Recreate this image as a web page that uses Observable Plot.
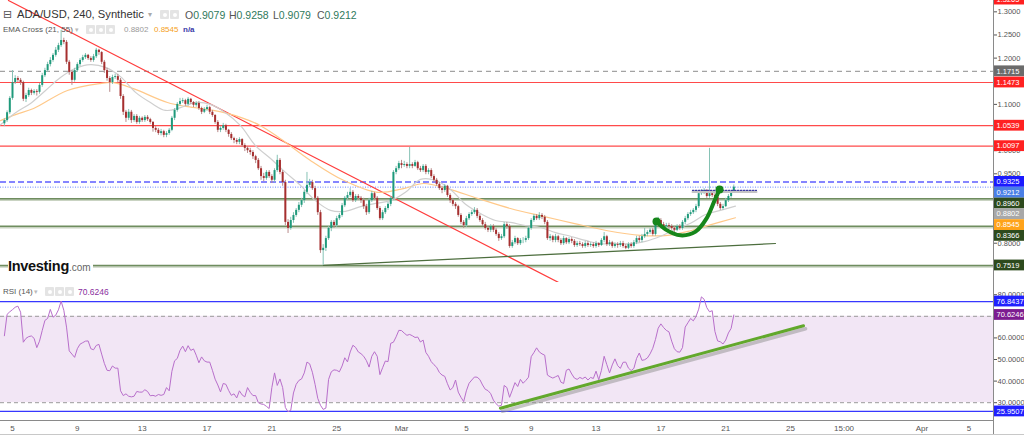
<!DOCTYPE html>
<html><head><meta charset="utf-8">
<script src="https://cdn.jsdelivr.net/npm/d3@7"></script>
<script src="https://cdn.jsdelivr.net/npm/@observablehq/plot@0.6"></script>
<style>
body{margin:0;background:#fff;font-family:"Liberation Sans",Arial,sans-serif;}
#wrap{position:relative;width:1024px;height:435px;overflow:hidden;background:#fff}
.abs{position:absolute;white-space:nowrap;line-height:1}
.ico{position:absolute;width:9px;height:9px;background:#e4e4e4;border-radius:1px}
.ico::after{content:"";position:absolute;left:2.5px;top:2.5px;width:4px;height:4px;border-radius:2px;background:#fff}
</style></head><body>
<div id="wrap">
  <div id="main" class="abs" style="left:0;top:0"></div>
  <div id="rsi" class="abs" style="left:0;top:283px"></div>
  <div class="abs" style="left:993px;top:0;width:1px;height:435px;background:#8a8a8a"></div>
  <div class="abs" style="left:0;top:434px;width:1024px;height:1px;background:#c8c8c8"></div>

  <div class="abs" style="left:3px;top:8.5px;font-family:'DejaVu Sans';font-size:11px;color:#555">⊟</div>
  <div class="abs" style="left:17px;top:9px;font-size:11.2px;color:#333">ADA/USD, 240, Synthetic</div>
  <div class="abs" style="left:148px;top:11px;font-size:8px;color:#aaa">▾</div>
  <span class="ico" style="left:160px;top:10px"></span><span class="ico" style="left:170px;top:10px"></span>
  <div class="abs" style="left:185px;top:9.5px;font-size:10.5px;color:#555">O<span style="color:#2f7a5c">0.9079</span></div>
  <div class="abs" style="left:229px;top:9.5px;font-size:10.5px;color:#555">H<span style="color:#2f7a5c">0.9258</span></div>
  <div class="abs" style="left:273px;top:9.5px;font-size:10.5px;color:#555">L<span style="color:#2f7a5c">0.9079</span></div>
  <div class="abs" style="left:317px;top:9.5px;font-size:10.5px;color:#555">C<span style="color:#2f7a5c">0.9212</span></div>

  <div class="abs" style="left:3px;top:25.5px;font-size:8px;color:#555">EMA Cross (21, 55)</div>
  <div class="abs" style="left:75px;top:25.5px;font-size:7px;color:#bbb">▾</div>
  <span class="ico" style="left:86px;top:25px"></span><span class="ico" style="left:96px;top:25px"></span><span class="ico" style="left:106px;top:25px"></span>
  <div class="abs" style="left:124px;top:25.5px;font-size:8px;color:#9a9a9a">0.8802</div>
  <div class="abs" style="left:154px;top:25.5px;font-size:8px;color:#f5a01a">0.8545</div>
  <div class="abs" style="left:183px;top:25.5px;font-size:8px;color:#3a3aa8;font-weight:bold">n/a</div>

  <div class="abs" style="left:3px;top:288px;font-size:8px;color:#555">RSI (14)</div>
  <div class="abs" style="left:34px;top:288px;font-size:7px;color:#bbb">▾</div>
  <span class="ico" style="left:45px;top:287px"></span><span class="ico" style="left:55px;top:287px"></span><span class="ico" style="left:65px;top:287px"></span>
  <div class="abs" style="left:78px;top:288px;font-size:8.5px;color:#8a2f9e">70.6246</div>

  <div class="abs" style="left:8px;top:258px;background:#fff;padding-right:2px"><span style="font-size:14.5px;font-weight:bold;color:#111;letter-spacing:-0.3px">Investing</span><span style="font-size:10px;color:#666">.com</span></div>
</div>
<script>
// ---------- data ----------
const startDay = 4.5;          // first 4h candle, in days counted from Feb 0 (Mar 1 = day 29)
const candleStep = 1 / 6;      // 4 hours
const firstOpen = 1.058;
const close = [
1.065,1.082,1.113,1.147,1.156,1.152,
1.147,1.111,1.119,1.130,1.124,1.128,
1.126,1.141,1.162,1.173,1.186,1.195,
1.206,1.217,1.227,1.238,1.234,1.191,
1.169,1.152,1.173,1.186,1.195,1.201,
1.206,1.199,1.195,1.203,1.217,1.212,
1.191,1.173,1.156,1.147,1.158,1.160,
1.152,1.117,1.083,1.070,1.083,1.065,
1.074,1.061,1.070,1.065,1.072,1.067,
1.061,1.048,1.044,1.037,1.041,1.033,
1.037,1.044,1.070,1.087,1.100,1.106,
1.108,1.100,1.111,1.104,1.098,1.102,
1.091,1.083,1.089,1.093,1.083,1.076,
1.061,1.044,1.048,1.054,1.044,1.035,
1.026,1.022,1.018,1.024,1.011,1.005,
1.000,0.996,0.987,0.979,0.961,0.944,
0.940,0.953,0.944,0.936,0.957,0.979,
0.953,0.931,0.845,0.832,0.849,0.860,
0.871,0.882,0.892,0.910,0.925,0.931,
0.918,0.897,0.866,0.784,0.789,0.810,
0.832,0.845,0.838,0.853,0.860,0.881,
0.897,0.903,0.910,0.892,0.901,0.897,
0.892,0.879,0.866,0.892,0.907,0.897,
0.875,0.853,0.866,0.875,0.884,0.897,
0.953,0.961,0.972,0.968,0.970,0.966,
0.970,0.966,0.974,0.961,0.957,0.966,
0.953,0.957,0.944,0.936,0.927,0.918,
0.914,0.923,0.903,0.892,0.884,0.879,
0.860,0.845,0.838,0.853,0.862,0.866,
0.871,0.858,0.849,0.840,0.832,0.828,
0.836,0.828,0.819,0.810,0.814,0.840,
0.836,0.793,0.801,0.810,0.799,0.806,
0.806,0.810,0.832,0.849,0.858,0.853,
0.860,0.856,0.845,0.810,0.814,0.806,
0.814,0.806,0.799,0.810,0.801,0.808,
0.804,0.795,0.799,0.797,0.793,0.799,
0.795,0.797,0.793,0.799,0.795,0.806,
0.814,0.797,0.801,0.793,0.797,0.795,
0.799,0.793,0.789,0.797,0.793,0.801,
0.810,0.806,0.814,0.819,0.823,0.828,
0.819,0.845,0.849,0.840,0.836,0.838,
0.836,0.832,0.828,0.836,0.832,0.845,
0.853,0.862,0.866,0.871,0.879,0.907,
0.910,0.914,0.901,0.907,0.903,0.899,
0.884,0.875,0.879,0.892,0.901,0.9079,
0.9212];
const high = [
1.069,1.086,1.117,1.173,1.162,1.160,
1.156,1.150,1.124,1.135,1.133,1.132,
1.132,1.145,1.167,1.178,1.191,1.201,
1.210,1.223,1.232,1.260,1.243,1.238,
1.195,1.173,1.178,1.190,1.199,1.206,
1.210,1.208,1.203,1.208,1.221,1.219,
1.214,1.195,1.178,1.160,1.163,1.165,
1.165,1.156,1.121,1.087,1.089,1.087,
1.078,1.078,1.074,1.073,1.076,1.076,
1.070,1.063,1.052,1.048,1.046,1.044,
1.041,1.048,1.074,1.091,1.104,1.113,
1.113,1.111,1.115,1.113,1.106,1.106,
1.106,1.094,1.093,1.098,1.096,1.087,
1.078,1.065,1.052,1.059,1.057,1.046,
1.039,1.029,1.026,1.028,1.026,1.015,
1.009,1.005,1.000,0.990,0.983,0.966,
0.951,0.957,0.957,0.948,0.961,0.990,
0.983,0.957,0.936,0.851,0.856,0.866,
0.875,0.888,0.897,0.914,0.953,0.938,
0.936,0.923,0.901,0.871,0.797,0.815,
0.836,0.849,0.849,0.858,0.864,0.886,
0.901,0.910,0.918,0.914,0.905,0.905,
0.901,0.897,0.884,0.897,0.912,0.910,
0.901,0.879,0.871,0.879,0.888,0.901,
0.957,0.966,0.977,0.979,0.977,0.974,
1.007,0.974,0.979,0.977,0.966,0.970,
0.970,0.961,0.961,0.948,0.940,0.931,
0.923,0.927,0.925,0.907,0.897,0.888,
0.882,0.864,0.849,0.858,0.866,0.871,
0.877,0.875,0.862,0.853,0.845,0.836,
0.840,0.840,0.832,0.823,0.819,0.845,
0.845,0.840,0.806,0.815,0.812,0.810,
0.812,0.815,0.836,0.853,0.862,0.862,
0.866,0.864,0.860,0.849,0.819,0.817,
0.819,0.817,0.810,0.815,0.812,0.812,
0.812,0.808,0.804,0.804,0.801,0.804,
0.804,0.801,0.801,0.804,0.801,0.810,
0.823,0.817,0.806,0.804,0.801,0.801,
0.804,0.804,0.797,0.801,0.801,0.806,
0.815,0.815,0.819,0.832,0.827,0.832,
0.832,0.849,0.856,0.853,0.845,0.843,
0.843,0.840,0.836,0.840,0.840,0.849,
0.858,0.866,0.871,0.875,0.884,0.912,
0.916,0.918,0.916,1.005,0.910,0.907,
0.903,0.888,0.884,0.897,0.905,0.912,
0.9258];
const low = [
1.052,1.061,1.078,1.109,1.143,1.147,
1.141,1.106,1.104,1.115,1.119,1.120,
1.118,1.122,1.137,1.158,1.169,1.181,
1.191,1.202,1.212,1.223,1.229,1.186,
1.163,1.141,1.148,1.169,1.182,1.191,
1.197,1.195,1.191,1.191,1.199,1.206,
1.186,1.167,1.150,1.126,1.143,1.154,
1.147,1.111,1.076,1.061,1.065,1.059,
1.061,1.057,1.057,1.061,1.061,1.063,
1.057,1.040,1.039,1.033,1.032,1.028,
1.028,1.033,1.041,1.065,1.083,1.096,
1.102,1.096,1.096,1.100,1.093,1.094,
1.087,1.078,1.080,1.085,1.078,1.072,
1.057,1.039,1.039,1.044,1.039,1.029,
1.022,1.015,1.013,1.013,1.007,0.998,
0.994,0.990,0.981,0.972,0.957,0.936,
0.933,0.936,0.940,0.929,0.931,0.953,
0.948,0.923,0.838,0.821,0.828,0.843,
0.856,0.866,0.877,0.886,0.905,0.920,
0.914,0.892,0.860,0.778,0.752,0.782,
0.806,0.825,0.832,0.834,0.849,0.856,
0.877,0.892,0.899,0.888,0.888,0.892,
0.886,0.873,0.860,0.862,0.888,0.892,
0.871,0.849,0.849,0.862,0.871,0.879,
0.892,0.948,0.957,0.961,0.964,0.961,
0.961,0.961,0.964,0.957,0.953,0.953,
0.948,0.948,0.940,0.931,0.923,0.914,
0.907,0.910,0.899,0.886,0.879,0.873,
0.856,0.840,0.832,0.834,0.849,0.858,
0.862,0.853,0.845,0.836,0.828,0.823,
0.823,0.823,0.815,0.804,0.806,0.810,
0.830,0.789,0.789,0.797,0.795,0.795,
0.799,0.801,0.806,0.828,0.845,0.849,
0.849,0.851,0.840,0.806,0.804,0.801,
0.801,0.801,0.795,0.795,0.797,0.797,
0.799,0.791,0.791,0.793,0.789,0.789,
0.791,0.791,0.789,0.789,0.791,0.793,
0.801,0.793,0.793,0.789,0.789,0.789,
0.791,0.789,0.786,0.786,0.789,0.789,
0.797,0.801,0.801,0.810,0.814,0.819,
0.815,0.815,0.840,0.836,0.830,0.832,
0.830,0.828,0.823,0.825,0.828,0.828,
0.840,0.849,0.858,0.862,0.866,0.875,
0.903,0.905,0.897,0.897,0.899,0.894,
0.879,0.871,0.871,0.877,0.888,0.897,
0.9079];
const rsi = [
61.0,70.9,72.1,73.1,74.2,74.7, 71.9,58.0,59.8,60.6,60.9,59.8,
55.5,58.5,63.4,68.1,69.0,73.2, 69.6,70.5,73.0,77.0,72.8,65.0,
54.0,52.5,51.0,55.0,57.1,57.8, 58.5,58.6,55.0,54.5,56.5,57.0,
52.5,48.2,45.0,44.8,47.0,46.0, 46.0,35.5,33.3,34.1,33.0,32.7,
33.0,35.2,34.9,34.9,36.0,35.2, 33.2,33.4,33.0,33.8,33.4,33.8,
37.0,35.5,44.5,49.4,50.5,54.2, 56.2,53.6,56.4,54.2,54.9,52.0,
48.5,51.2,49.4,48.8,48.8,45.0, 40.9,38.2,35.0,38.9,38.5,35.7,
33.4,34.1,32.2,35.5,33.6,32.7, 37.0,34.8,33.3,33.3,30.0,29.4,
29.2,28.3,27.3,37.0,43.8,38.0, 41.0,37.0,27.8,25.8,26.5,34.5,
38.5,40.3,41.0,43.8,48.8,48.0, 44.1,38.5,32.0,28.8,26.9,27.5,
40.8,44.3,45.2,45.0,44.3,47.0, 50.8,48.9,53.5,56.6,55.6,53.5,
52.7,51.5,49.5,46.5,51.5,53.6, 51.5,43.0,46.2,49.3,49.0,57.5,
58.0,60.5,63.5,63.4,62.2,61.2, 61.6,61.0,60.2,60.4,58.1,59.0,
53.3,51.5,49.0,47.6,46.4,44.0, 42.8,42.2,38.8,35.9,37.0,40.5,
34.9,32.5,30.5,35.5,39.0,40.5, 41.9,41.8,40.7,38.2,36.2,35.6,
34.2,31.2,29.5,28.4,28.8,38.0, 37.0,32.5,35.8,39.3,37.5,40.8,
39.0,40.3,41.8,51.3,53.2,55.4, 53.5,52.6,52.0,42.8,42.0,41.4,
42.0,42.6,39.5,38.9,45.0,45.6, 43.3,41.4,40.8,41.7,41.1,41.9,
40.5,41.7,41.2,44.6,40.6,45.0, 51.5,47.6,43.8,47.5,50.3,47.2,
45.9,48.7,48.8,46.0,44.9,45.9, 50.5,53.0,49.6,49.9,50.7,52.6,
55.2,59.3,64.5,66.5,64.8,63.5, 62.8,58.5,55.0,53.6,53.4,55.5,
65.0,67.0,69.0,67.9,69.9,73.3, 79.0,77.9,74.0,72.1,72.6,63.0,
58.6,58.2,57.2,59.0,62.3,64.4, 70.6];

const ema21Day = [4.26,5.19,6.11,7.04,7.96,8.89,9.81,10.74,11.66,12.59,13.51,14.44,15.36,16.29,17.21,18.14,19.07,19.99,20.92,21.84,22.77,23.69,24.62,25.54,26.47,27.39,28.32,29.24,30.17,31.09,32.02,32.95,33.87,34.80,35.72,36.65,37.57,38.50,39.42,40.35,41.27,42.20,43.12,44.05,44.98,45.90,46.83,47.75,48.68,49.60];
const ema21 = [1.056,1.082,1.102,1.130,1.158,1.178,1.186,1.180,1.160,1.126,1.104,1.087,1.093,1.104,1.100,1.082,1.054,1.011,0.983,0.953,0.925,0.892,0.871,0.869,0.879,0.886,0.892,0.910,0.938,0.936,0.916,0.884,0.864,0.849,0.845,0.838,0.834,0.823,0.815,0.806,0.799,0.799,0.799,0.804,0.815,0.830,0.843,0.862,0.871,0.880];
const ema55Day = [4.26,5.19,6.30,8.39,10.43,11.23,12.46,14.56,15.80,17.40,19.07,20.30,21.53,23.38,25.42,27.52,29.12,30.36,31.84,33.69,35.72,37.76,39.61,41.71,43.74,45.41,46.83,47.88,49.60];
const ema55 = [1.065,1.078,1.091,1.130,1.145,1.147,1.134,1.104,1.095,1.087,1.072,1.054,1.026,0.979,0.936,0.910,0.918,0.929,0.918,0.897,0.875,0.858,0.843,0.827,0.817,0.817,0.827,0.838,0.855];
const crossDay = [5.12, 12.28, 29.61, 31.90, 45.41];
const crossPrice = [1.080, 1.134, 0.920, 0.920, 0.817];

const redLevels = [1.1473, 1.0539, 1.0097];
const grayDashLevel = [1.1715];
const blueDashLevel = [0.9325];
const blueDotLevel = [0.9212];
const greenLevels = [0.8960, 0.8366, 0.7519];
const downTrendDay = [4.75, 38.81], downTrendPrice = [1.3245, 0.713];
const supportDay = [24.19, 52.07], supportPrice = [0.752, 0.7994];
const arcDay = [44.73, 45.28, 46.21, 47.14, 47.81, 48.31, 48.62];
const arcPrice = [0.847, 0.830, 0.817, 0.825, 0.853, 0.892, 0.916];
const shortDotDay = [46.95, 50.90], shortDotPrice = [0.914, 0.914];

// tick labels visible on the price axis (the others sit under the value boxes)
const priceTicks = [0.80, 0.95, 1.00, 1.10, 1.20, 1.25, 1.30];
const priceLabels = [1.3265, 1.1715, 1.1473, 1.0539, 1.0097, 0.9325, 0.9212, 0.8960, 0.8802, 0.8545, 0.8366, 0.7519];
const priceLabelColors = ["#ff1f1f","#6b6b6b","#ff2121","#ff2121","#ff2121","#1a1aff","#4a7fe6","#2d4a1d","#a8a8a8","#ffa31a","#2d4a1d","#2d4a1d"];

const rsiTicks = [30,40,50,60,80];
const rsiBands = [30, 70];
const rsiLevels = [76.8437, 25.9507];
const rsiLabels = [76.8437, 70.6246, 25.9507];
const rsiLabelColors = ["#2020ff", "#7d1d90", "#2020ff"];
const rsiTrendDay = [35.10, 53.80], rsiTrendValue = [27.45, 65.6];

const xTickDays = [5, 9, 13, 17, 21, 25, 29, 33, 37, 41, 45, 49, 53, 56.3, 61.1, 64];
const xTickLabels = ["5","9","13","17","21","25","Mar","5","9","13","17","21","25","15:00","Apr","5"];

// ---------- build ----------
const xDomain = [4.26, 65.52];
const candles = close.map((c, i) => ({
  day: startDay + i * candleStep,
  open: i === 0 ? firstOpen : close[i - 1],
  close: c, high: high[i], low: low[i], rsi: rsi[i]
}));
const pairs = (xs, ys) => xs.map((x, i) => ({x, y: ys[i]}));
const bull = "#1f9a7b", bear = "#a62f2f", bullWick = "#86c2b5", bearWick = "#b88a8a";
const fmt4 = d3.format(".4f");
const font = "'Liberation Sans', Arial, sans-serif";

const main = Plot.plot({
  width: 1024, height: 282,
  marginTop: 0, marginBottom: 0, marginLeft: 0, marginRight: 31,
  x: {domain: xDomain, axis: null},
  y: {domain: [0.7151, 1.3245], axis: null},
  style: {fontFamily: font, background: "transparent"},
  marks: [
    Plot.axisY({anchor: "right", ticks: priceTicks, tickFormat: fmt4, tickSize: 3, tickPadding: 1, fontSize: 7.5, color: "#555", label: null}),
    Plot.ruleY(grayDashLevel, {stroke: "#8c8c8c", strokeDasharray: "5,4", strokeWidth: 1}),
    Plot.ruleY(redLevels, {stroke: "#ff4a4a", strokeWidth: 1.2}),
    Plot.ruleY(greenLevels, {stroke: "#c9d3c2", strokeWidth: 2, dy: 1.2}),
    Plot.ruleY(greenLevels, {stroke: "#6f8d5f", strokeWidth: 1.6}),
    Plot.ruleY(blueDashLevel, {stroke: "#8585ff", strokeWidth: 2, strokeDasharray: "6,3"}),
    Plot.ruleY(blueDotLevel, {stroke: "#6a86ff", strokeWidth: 1, strokeDasharray: "1,1.5"}),
    Plot.line(pairs(downTrendDay, downTrendPrice), {x: "x", y: "y", stroke: "#ff3c3c", strokeWidth: 1.2}),
    Plot.line(pairs(supportDay, supportPrice), {x: "x", y: "y", stroke: "#4d6e3e", strokeWidth: 1.2}),
    Plot.line(pairs(ema55Day, ema55), {x: "x", y: "y", stroke: "#ffc98a", strokeWidth: 1.2, curve: "catmull-rom"}),
    Plot.line(pairs(ema21Day, ema21), {x: "x", y: "y", stroke: "#cfcfcf", strokeWidth: 1.2, curve: "catmull-rom"}),
    Plot.ruleX(candles, {x: "day", y1: "low", y2: "high", stroke: d => d.close >= d.open ? bullWick : bearWick, strokeWidth: 1}),
    Plot.ruleX(candles, {x: "day", y1: "open", y2: "close", stroke: d => d.close >= d.open ? bull : bear, strokeWidth: 2}),
    Plot.line(pairs(shortDotDay, shortDotPrice), {x: "x", y: "y", stroke: "#c4c4c4", strokeWidth: 2, dy: 1.5}),
    Plot.line(pairs(shortDotDay, shortDotPrice), {x: "x", y: "y", stroke: "#3d3d9e", strokeWidth: 1.2, strokeDasharray: "1.5,1.5"}),
    Plot.dot(pairs(crossDay, crossPrice), {x: "x", y: "y", symbol: "plus", r: 4.6, fill: "#5555a6", stroke: "none"}),
    Plot.line(pairs(arcDay, arcPrice), {x: "x", y: "y", stroke: "#16861a", strokeWidth: 4, curve: "catmull-rom", strokeLinecap: "round"}),
    Plot.dot([0, arcDay.length - 1].map(i => ({x: arcDay[i], y: arcPrice[i]})), {x: "x", y: "y", r: 4, fill: "#16861a", stroke: "none"}),
    Plot.frame({anchor: "bottom", stroke: "#8a8a8a"})
  ]
});
document.getElementById("main").appendChild(main);

function addBoxes(svgEl, values, colors, boxH) {
  const ys = svgEl.scale("y");
  const boxes = values.map((v, i) => ({v, color: colors[i], y: ys.apply(v)})).sort((a, b) => a.y - b.y);
  for (let i = 1; i < boxes.length; i++) if (boxes[i].y < boxes[i - 1].y + boxH) boxes[i].y = boxes[i - 1].y + boxH;
  const g = d3.select(svgEl).append("g").attr("text-anchor", "start");
  g.selectAll("rect").data(boxes).join("rect")
    .attr("x", 993.5).attr("y", d => d.y - boxH / 2).attr("width", 31).attr("height", boxH).attr("fill", d => d.color);
  g.selectAll("text").data(boxes).join("text")
    .attr("x", 996.5).attr("y", d => d.y).attr("dy", "0.36em").attr("fill", "#fff").attr("text-anchor", "start")
    .attr("font-size", 7.5).attr("font-family", font).text(d => fmt4(d.v));
}
addBoxes(main, priceLabels, priceLabelColors, 10.8);

const labelByDay = new Map(xTickDays.map((d, i) => [d, xTickLabels[i]]));
const rsiPlot = Plot.plot({
  width: 1024, height: 152,
  marginTop: 0, marginBottom: 15, marginLeft: 0, marginRight: 31,
  x: {domain: xDomain, axis: null},
  y: {domain: [21.76, 85.19], axis: null},
  style: {fontFamily: font, background: "transparent", overflow: "visible"},
  marks: [
    Plot.rect([{}], {x1: xDomain[0], x2: xDomain[1], y1: rsiBands[0], y2: rsiBands[1], fill: "#f2e6f5"}),
    Plot.ruleY(rsiBands, {stroke: "#9a9a9a", strokeDasharray: "4,3", strokeWidth: 1}),
    Plot.ruleY(rsiLevels, {stroke: "#3737ff", strokeWidth: 1.3}),
    Plot.axisY({anchor: "right", ticks: rsiTicks, tickFormat: fmt4, tickSize: 3, tickPadding: 1, fontSize: 7.5, color: "#555", label: null}),
    Plot.axisX({ticks: xTickDays, tickFormat: d => labelByDay.get(d), tickSize: 0, tickPadding: 5, fontSize: 8, color: "#555", label: null}),
    Plot.line(pairs(rsiTrendDay, rsiTrendValue), {x: "x", y: "y", stroke: "#8f8f8f", strokeOpacity: 0.5, strokeWidth: 3.5, dx: 2, dy: 3}),
    Plot.line(pairs(rsiTrendDay, rsiTrendValue), {x: "x", y: "y", stroke: "#62a82c", strokeWidth: 3}),
    Plot.line(candles, {x: "day", y: "rsi", stroke: "#b86fcb", strokeWidth: 1}),
    Plot.frame({anchor: "bottom", stroke: "#8a8a8a"})
  ]
});
document.getElementById("rsi").appendChild(rsiPlot);
addBoxes(rsiPlot, rsiLabels, rsiLabelColors, 10.8);
</script>
</body></html>
